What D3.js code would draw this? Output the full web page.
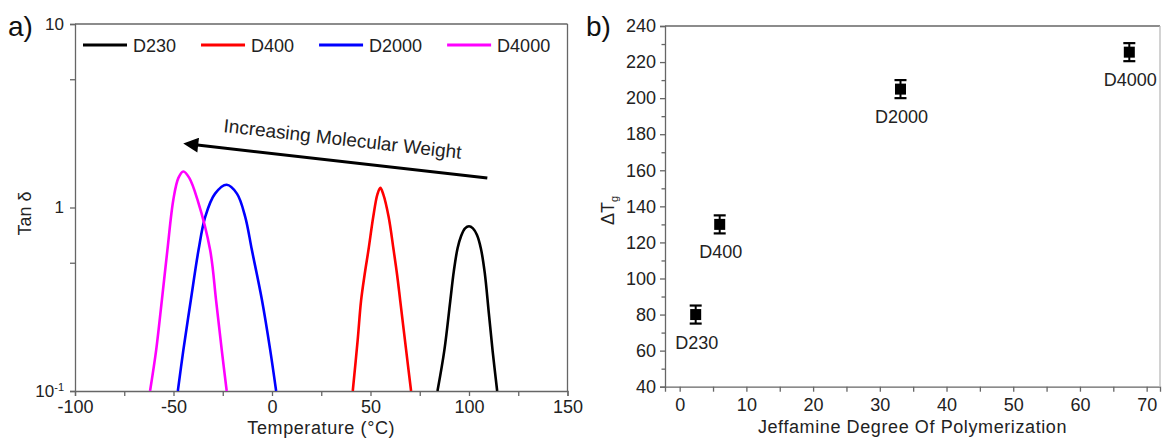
<!DOCTYPE html>
<html>
<head>
<meta charset="utf-8">
<script src="https://cdn.jsdelivr.net/npm/d3@7"></script>
<style>
  body { margin: 0; background: #fff; }
  svg { font-family: "Liberation Sans", Arial, sans-serif; }
</style>
</head>
<body>
<div id="chart"></div>
<script>
// ---- panel a) tan delta curves ----
const seriesNames = ["D230", "D400", "D2000", "D4000"];
const seriesColors = ["#000000", "#ff0000", "#0000ff", "#ff00ff"];

const tempD230 = [84, 87.5, 90.5, 92.3, 94.2, 96, 98, 100, 102, 104, 106, 108, 110, 112, 114.3];
const tanD230 = [0.1, 0.167, 0.31, 0.45, 0.60, 0.70, 0.77, 0.79, 0.77, 0.71, 0.60, 0.44, 0.27, 0.165, 0.1];

const tempD400 = [41, 43.5, 45.2, 47, 49, 51.4, 53.5, 55, 56.5, 59.2, 61.7, 63.5, 65.1, 68, 70.6];
const tanD400 = [0.1, 0.19, 0.31, 0.43, 0.59, 0.89, 1.18, 1.28, 1.18, 0.89, 0.59, 0.43, 0.31, 0.17, 0.1];

const tempD2000 = [-47.8, -45, -41.2, -37.3, -33.9, -28.9, -23, -17.8, -13.6, -10.2, -5.1, -0.9, 2.1];
const tanD2000 = [0.1, 0.167, 0.313, 0.586, 0.89, 1.19, 1.33, 1.19, 0.89, 0.586, 0.313, 0.167, 0.1];

const tempD4000 = [-61.9, -58.8, -55.9, -53.1, -50.1, -47.5, -45, -42, -37.8, -31.4, -28.4, -25.5, -23];
const tanD4000 = [0.1, 0.167, 0.313, 0.586, 1.10, 1.45, 1.57, 1.45, 1.10, 0.586, 0.313, 0.167, 0.1];

const tempTicks = [-100, -75, -50, -25, 0, 25, 50, 75, 100, 125, 150];
const tanTicks = [0.1, 0.5, 1, 5, 10];

// arrow annotation, in data units (temperature, tan delta)
const arrowTail = [109.3, 1.45];
const arrowHead = [-46.1, 2.24];
const arrowText = "Increasing Molecular Weight";
const arrowTextPos = [-24.9, 2.58];

// ---- panel b) delta Tg vs degree of polymerization ----
const dpNames = ["D230", "D400", "D2000", "D4000"];
const dpValues = [2.4, 6.0, 33.1, 67.4];
const dTgValues = [80, 130, 205, 225.5];
const dTgErrors = [5, 5, 5, 5];

const dpTicks = [0, 5, 10, 15, 20, 25, 30, 35, 40, 45, 50, 55, 60, 65, 70];
const dTgTicks = [40, 50, 60, 70, 80, 90, 100, 110, 120, 130, 140, 150, 160, 170, 180, 190, 200, 210, 220, 230, 240];

const W = 1163, H = 440;
const axisColor = "#666";
const textColor = "#222";

const svg = d3.select("#chart").append("svg")
  .attr("width", W)
  .attr("height", H);

svg.append("rect").attr("width", W).attr("height", H).attr("fill", "#fff");

function styleAxis(g, size) {
  g.select(".domain").attr("stroke", axisColor).attr("stroke-width", 1.3);
  g.selectAll(".tick line").attr("stroke", axisColor).attr("stroke-width", 1.3);
  g.selectAll(".tick text").attr("fill", textColor).style("font-size", size + "px");
}

// ================= panel a =================
const xL = d3.scaleLinear().domain([-100, 150]).range([75, 567.5]);
const yL = d3.scaleLog().domain([0.1, 10]).range([391, 24]);

svg.append("defs").append("clipPath").attr("id", "clipA")
  .append("rect")
  .attr("x", xL(-100)).attr("y", yL(10))
  .attr("width", xL(150) - xL(-100)).attr("height", yL(0.1) - yL(10));

const gxL = svg.append("g")
  .attr("transform", `translate(0,${yL(0.1)})`)
  .call(d3.axisBottom(xL).tickValues(tempTicks).tickSize(5).tickPadding(4)
    .tickFormat(d => (d % 50 === 0 ? String(d) : "")));
styleAxis(gxL, 18);

const gyL = svg.append("g")
  .attr("transform", `translate(${xL(-100)},0)`)
  .call(d3.axisLeft(yL).tickValues(tanTicks).tickSize(5).tickPadding(6)
    .tickFormat(d => (d === 1 ? "1" : d === 10 ? "10" : "")));
styleAxis(gyL, 17);
gyL.selectAll(".tick text").filter(d => d === 0.1)
  .each(function () {
    const t = d3.select(this);
    t.append("tspan").text("10");
    t.append("tspan").attr("dy", "-0.55em").style("font-size", "11px").text("-1");
  });

// box top/right
svg.append("line").attr("x1", xL(-100)).attr("x2", xL(150)).attr("y1", yL(10)).attr("y2", yL(10))
  .attr("stroke", axisColor).attr("stroke-width", 1.3);
svg.append("line").attr("x1", xL(150)).attr("x2", xL(150)).attr("y1", yL(10)).attr("y2", yL(0.1))
  .attr("stroke", axisColor).attr("stroke-width", 1.3);

const curves = [
  { temp: tempD230, tan: tanD230 },
  { temp: tempD400, tan: tanD400 },
  { temp: tempD2000, tan: tanD2000 },
  { temp: tempD4000, tan: tanD4000 },
];

const line = d3.line()
  .x(d => xL(d[0]))
  .y(d => yL(d[1]))
  .curve(d3.curveCatmullRom.alpha(0.5));

const gCurves = svg.append("g").attr("clip-path", "url(#clipA)");
curves.forEach((c, i) => {
  gCurves.append("path")
    .datum(c.temp.map((t, j) => [t, c.tan[j]]))
    .attr("fill", "none")
    .attr("stroke", seriesColors[i])
    .attr("stroke-width", 2.6)
    .attr("stroke-linejoin", "round")
    .attr("d", line);
});

// legend
let lx = 83;
const ly = 45;
seriesNames.forEach((name, i) => {
  svg.append("line")
    .attr("x1", lx).attr("x2", lx + 44).attr("y1", ly).attr("y2", ly)
    .attr("stroke", seriesColors[i]).attr("stroke-width", 3);
  const t = svg.append("text")
    .attr("x", lx + 50).attr("y", ly + 6.5)
    .attr("fill", textColor)
    .style("font-size", "18px")
    .text(name);
  lx = lx + 50 + t.node().getComputedTextLength() + 25;
});

// arrow
const arrowDefs = svg.select("defs");
arrowDefs.append("marker")
  .attr("id", "arrowHead")
  .attr("viewBox", "0 0 10 10")
  .attr("refX", 2).attr("refY", 5)
  .attr("markerWidth", 6).attr("markerHeight", 5)
  .attr("markerUnits", "strokeWidth")
  .attr("orient", "auto-start-reverse")
  .append("path").attr("d", "M0,0 L10,5 L0,10 z").attr("fill", "#000");

svg.append("line")
  .attr("x1", xL(arrowTail[0])).attr("y1", yL(arrowTail[1]))
  .attr("x2", xL(arrowHead[0]) + 14).attr("y2", yL(arrowHead[1]) + 1.6)
  .attr("stroke", "#000").attr("stroke-width", 3)
  .attr("marker-end", "url(#arrowHead)");

const angle = Math.atan2(yL(arrowTail[1]) - yL(arrowHead[1]), xL(arrowTail[0]) - xL(arrowHead[0])) * 180 / Math.PI;
svg.append("text")
  .attr("transform", `translate(${xL(arrowTextPos[0])},${yL(arrowTextPos[1])}) rotate(${angle})`)
  .attr("fill", textColor)
  .style("font-size", "19px")
  .text(arrowText);

// axis titles
svg.append("text")
  .attr("x", (xL(-100) + xL(150)) / 2).attr("y", 434)
  .attr("text-anchor", "middle").attr("fill", textColor)
  .style("font-size", "18px").style("letter-spacing", "0.6px")
  .text("Temperature (°C)");

svg.append("text")
  .attr("transform", `translate(31,${(yL(0.1) + yL(10)) / 2 + 6}) rotate(-90)`)
  .attr("text-anchor", "middle").attr("fill", textColor)
  .style("font-size", "18px")
  .text("Tan δ");

svg.append("text").attr("x", 8).attr("y", 36)
  .attr("fill", "#111").style("font-size", "28px").text("a)");

// ================= panel b =================
const xR = d3.scaleLinear().domain([-2.2, 72]).range([665, 1160]);
const yR = d3.scaleLinear().domain([40, 240]).range([386.7, 26]);

const gxR = svg.append("g")
  .attr("transform", `translate(0,${yR(40)})`)
  .call(d3.axisBottom(xR).tickValues(dpTicks).tickSize(5).tickPadding(7)
    .tickFormat(d => (d % 10 === 0 ? String(d) : "")));
styleAxis(gxR, 18);

const gyR = svg.append("g")
  .attr("transform", `translate(${xR(-2.2)},0)`)
  .call(d3.axisLeft(yR).tickValues(dTgTicks).tickSize(5).tickPadding(4)
    .tickFormat(d => (d % 20 === 0 ? String(d) : "")));
styleAxis(gyR, 18);
gyR.selectAll(".tick line").filter(d => d % 20 !== 0).attr("x2", -3.5);

svg.append("line").attr("x1", xR(-2.2)).attr("x2", xR(72)).attr("y1", yR(240)).attr("y2", yR(240))
  .attr("stroke", axisColor).attr("stroke-width", 1.3);
svg.append("line").attr("x1", xR(72)).attr("x2", xR(72)).attr("y1", yR(240)).attr("y2", yR(40))
  .attr("stroke", "#bbb").attr("stroke-width", 1.3);

const pts = dpValues.map((x, i) => ({ x, y: dTgValues[i], e: dTgErrors[i], name: dpNames[i] }));
const gPts = svg.append("g");

gPts.selectAll(".err").data(pts).enter().append("line")
  .attr("x1", d => xR(d.x)).attr("x2", d => xR(d.x))
  .attr("y1", d => yR(d.y - d.e)).attr("y2", d => yR(d.y + d.e))
  .attr("stroke", "#000").attr("stroke-width", 2);

[1, -1].forEach(s => {
  gPts.selectAll(".cap" + s).data(pts).enter().append("line")
    .attr("x1", d => xR(d.x) - 6).attr("x2", d => xR(d.x) + 6)
    .attr("y1", d => yR(d.y + s * d.e)).attr("y2", d => yR(d.y + s * d.e))
    .attr("stroke", "#000").attr("stroke-width", 2.2);
});

gPts.selectAll(".pt").data(pts).enter().append("rect")
  .attr("x", d => xR(d.x) - 5.5).attr("y", d => yR(d.y) - 5.5)
  .attr("width", 11).attr("height", 11)
  .attr("fill", "#000");

gPts.selectAll(".lbl").data(pts).enter().append("text")
  .attr("x", d => xR(d.x) + 1).attr("y", d => yR(d.y) + 34)
  .attr("text-anchor", "middle").attr("fill", textColor)
  .style("font-size", "18px")
  .text(d => d.name);

svg.append("text")
  .attr("x", (xR(-2.2) + xR(72)) / 2).attr("y", 433)
  .attr("text-anchor", "middle").attr("fill", textColor)
  .style("font-size", "18px").style("letter-spacing", "0.6px")
  .text("Jeffamine Degree Of Polymerization");

const dtg = svg.append("text")
  .attr("transform", `translate(614,${(yR(40) + yR(240)) / 2 + 4}) rotate(-90)`)
  .attr("text-anchor", "middle").attr("fill", textColor)
  .style("font-size", "18px");
dtg.append("tspan").text("ΔT");
dtg.append("tspan").attr("dy", "0.35em").style("font-size", "11px").text("g");

svg.append("text").attr("x", 586).attr("y", 36)
  .attr("fill", "#111").style("font-size", "28px").text("b)");
</script>
</body>
</html>
